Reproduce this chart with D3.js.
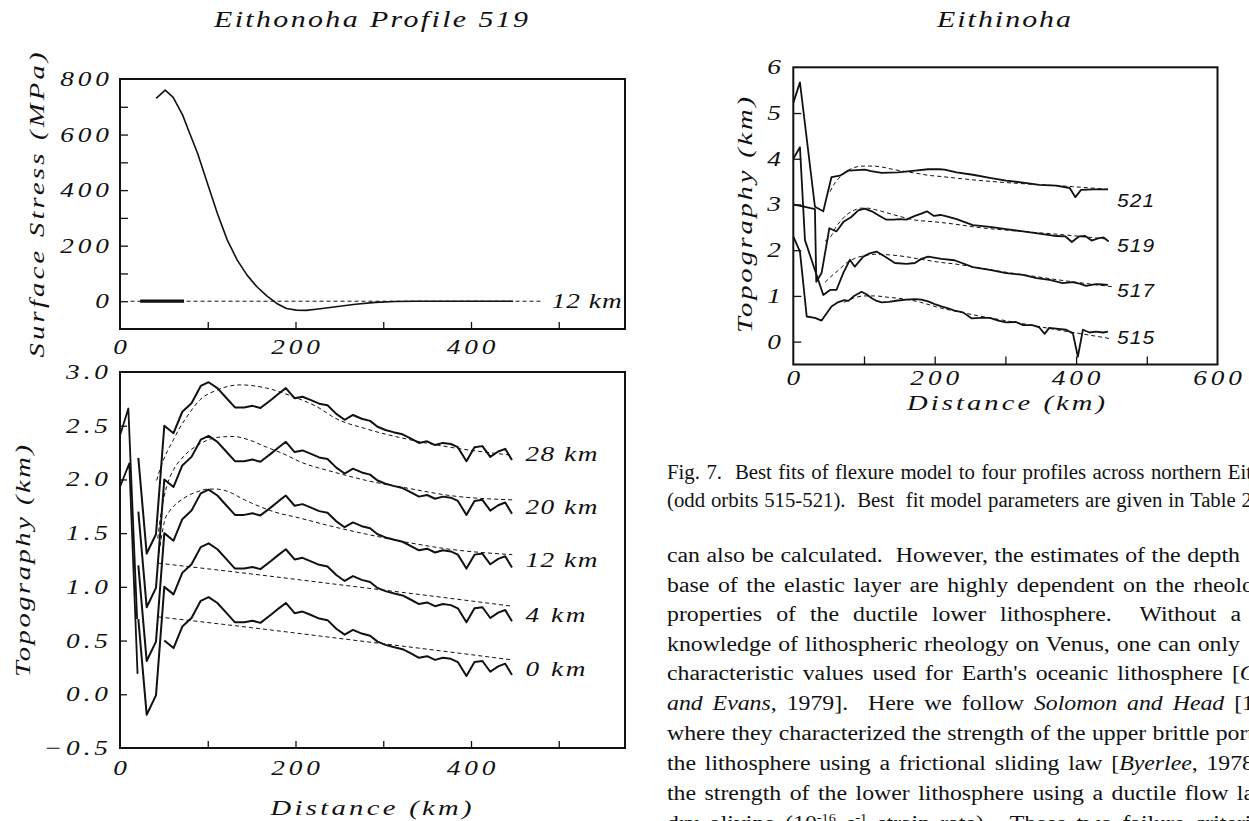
<!DOCTYPE html>
<html>
<head>
<meta charset="utf-8">
<script src="https://cdn.jsdelivr.net/npm/d3@7"></script>
<style>
  body { margin: 0; background: #fff; }
  svg { display: block; }
</style>
</head>
<body>
<svg id="fig" width="1249" height="821"></svg>
<script>
// ---------- Profile 519: surface stress for the 12 km elastic model ----------
const stressKm  = [41.2, 51.5, 60.6, 71.4, 79.5, 88.5, 99.7, 111, 122.3, 133.6, 144.8, 156, 167.3, 178.6, 189.8, 201, 212.3, 223.6, 246, 268.5, 291, 313.7, 336, 448];
const stressMPa = [730, 760, 734, 670, 604, 532, 424, 316, 220, 148, 94, 52, 19, -8, -26, -32, -33, -29, -20, -11, -4, -1, 0, 0];
const stressFlatKm = [23, 73];
const zeroLineKm = [12, 479];

// ---------- Profile 519 topography (base curve, stacked by model) ----------
const profKm = [20.9, 30.4, 41, 50.5, 61, 71, 81.5, 92, 101, 111, 121, 131, 141.5, 151, 160, 172, 181, 189, 199, 208,
                217, 227, 236.5, 246.5, 256, 265.5, 275.5, 285, 293.5, 302.5, 311.5, 322, 331.6, 340.7, 350, 359, 368, 377, 385, 394.8,
                404, 413, 422, 431, 439, 446.7];
const profTopo = [0.20, -0.69, -0.51, 0.50, 0.43, 0.63, 0.71, 0.87, 0.905, 0.85, 0.76, 0.67, 0.67, 0.685, 0.665, 0.74, 0.80, 0.85, 0.755, 0.77,
                  0.74, 0.705, 0.69, 0.61, 0.555, 0.60, 0.565, 0.545, 0.49, 0.46, 0.44, 0.42, 0.38, 0.34, 0.355, 0.32, 0.34, 0.33, 0.30, 0.17,
                  0.30, 0.31, 0.21, 0.26, 0.285, 0.18];
const stackOffsets = [2.0, 1.5, 1.0, 0.5, 0.0];
const stackFirstPoint = [0, 0, 0, 0, 3];
const elasticLabels = ["28 km", "20 km", "12 km", "4 km", "0 km"];
const elasticLabelTopo = [2.24, 1.74, 1.25, 0.735, 0.24];

// leading segments near the trench
const lead28Km = [0, 9.5, 19.5];
const lead28   = [2.41, 2.66, 0.70];
const lead20Km = [0, 10.6, 20.0];
const lead20   = [1.93, 2.15, 0.19];

// flexure model fits, one per elastic thickness
const fit28Km = [41.8, 45, 49.4, 55, 61, 68, 76, 91, 110, 137, 167, 197.5, 228, 243, 281, 330, 376, 447];
const fit28   = [1.99, 2.08, 2.18, 2.28, 2.37, 2.48, 2.58, 2.74, 2.83, 2.88, 2.85, 2.77, 2.66, 2.58, 2.47, 2.37, 2.30, 2.225];
const fit20Km = [43, 47, 53, 61, 72, 91, 110, 129, 148, 167, 186, 205, 243, 281, 330, 376, 447];
const fit20   = [1.45, 1.70, 1.93, 2.09, 2.21, 2.33, 2.39, 2.40, 2.365, 2.30, 2.24, 2.165, 2.07, 1.99, 1.915, 1.85, 1.81];
const fit12Km = [43.5, 47, 51, 56, 61, 70, 80, 90, 100, 110, 118, 128, 137, 150, 175, 205, 243, 281, 330, 376, 447];
const fit12   = [1.25, 1.45, 1.62, 1.70, 1.75, 1.81, 1.86, 1.89, 1.91, 1.91, 1.90, 1.87, 1.83, 1.78, 1.70, 1.64, 1.56, 1.49, 1.41, 1.35, 1.30];
const fit4Km  = [44, 150, 250, 350, 447];
const fit4    = [1.22, 1.12, 1.02, 0.92, 0.82];
const fit0Km  = [44, 150, 250, 350, 447];
const fit0    = [0.72, 0.62, 0.52, 0.42, 0.32];

// ---------- Eithinoha: orbits 515-521 ----------
const o521Km = [0, 9.4, 30.6, 42.4, 54, 66, 77.7, 90, 101, 110, 125, 148, 172, 190.7, 207, 214, 231, 254, 278, 301, 325, 348, 372, 391, 399, 407, 424, 445];
const o521   = [5.22, 5.67, 2.95, 2.85, 3.60, 3.63, 3.74, 3.75, 3.76, 3.73, 3.69, 3.70, 3.74, 3.77, 3.77, 3.76, 3.70, 3.65, 3.58, 3.52, 3.48, 3.43, 3.41, 3.36, 3.16, 3.32, 3.33, 3.33];
const m521Km = [52, 58, 66, 75, 83, 92, 101, 112, 125, 140, 158, 175, 190, 210, 228, 260, 300, 340, 395, 445];
const m521   = [3.28, 3.45, 3.60, 3.72, 3.79, 3.83, 3.84, 3.84, 3.82, 3.77, 3.72, 3.68, 3.64, 3.61, 3.58, 3.53, 3.48, 3.44, 3.39, 3.33];

const o519Km = [0, 16.5, 30.6, 32.5, 40, 51, 61, 71, 81.5, 92, 101, 111, 121, 131, 141.5, 151, 160, 172, 181, 189, 199, 208, 217, 231, 254, 278, 301, 325, 348, 372, 385, 394, 404, 413, 422, 431, 439, 446];
const o519   = [3.00, 2.95, 2.90, 1.31, 1.50, 2.48, 2.41, 2.62, 2.72, 2.87, 2.91, 2.85, 2.76, 2.67, 2.67, 2.68, 2.67, 2.75, 2.80, 2.85, 2.75, 2.77, 2.74, 2.68, 2.55, 2.51, 2.46, 2.41, 2.36, 2.31, 2.30, 2.18, 2.30, 2.31, 2.21, 2.26, 2.28, 2.19];
const m519Km = [45, 54, 60, 66, 76, 87, 96, 105, 115, 125, 148, 172, 200, 228, 260, 300, 340, 380, 420, 446];
const m519   = [2.20, 2.32, 2.50, 2.62, 2.78, 2.88, 2.92, 2.92, 2.89, 2.85, 2.75, 2.66, 2.62, 2.57, 2.50, 2.44, 2.39, 2.34, 2.28, 2.24];

const o517Km = [0, 9.4, 16.5, 42.4, 52, 61, 70.6, 80, 87, 99, 108, 117.7, 129.5, 143.6, 160, 172, 181, 190.7, 209.6, 228, 254, 278, 301, 325, 344, 362.6, 381, 395, 405, 414, 428, 437, 445];
const o517   = [4.00, 4.25, 2.22, 1.02, 1.13, 1.13, 1.50, 1.79, 1.64, 1.86, 1.93, 1.97, 1.86, 1.72, 1.70, 1.72, 1.81, 1.86, 1.81, 1.78, 1.63, 1.57, 1.50, 1.46, 1.39, 1.35, 1.28, 1.30, 1.27, 1.22, 1.26, 1.25, 1.24];
const m517Km = [45, 53, 63, 75, 87, 100, 115, 134, 158, 181, 210, 228, 260, 300, 340, 380, 420, 452];
const m517   = [1.30, 1.42, 1.55, 1.72, 1.82, 1.88, 1.91, 1.90, 1.86, 1.80, 1.73, 1.70, 1.62, 1.52, 1.43, 1.34, 1.26, 1.20];

const o515Km = [0, 9.4, 19, 30.6, 40, 54, 63, 72, 78, 86, 96.6, 104, 111, 118, 125, 135, 148, 160, 172, 181, 190.7, 200, 209.6, 219, 228, 240, 252, 265, 278, 290,
                301, 315, 325, 338, 348, 355.5, 362, 375, 386, 395.5, 402.5, 409.6, 419, 428, 438, 445];
const o515   = [2.30, 1.97, 0.55, 0.52, 0.46, 0.77, 0.86, 0.91, 0.89, 1.00, 1.09, 1.03, 0.95, 0.89, 0.86, 0.87, 0.90, 0.92, 0.93, 0.92, 0.88, 0.82, 0.77, 0.73, 0.68, 0.64, 0.51, 0.52, 0.52, 0.46,
                0.42, 0.43, 0.36, 0.36, 0.31, 0.17, 0.30, 0.28, 0.26, 0.18, -0.33, 0.26, 0.20, 0.22, 0.20, 0.22];
const m515Km = [72, 85, 100, 115, 134, 158, 180, 207, 228, 260, 300, 340, 380, 420, 447];
const m515   = [0.86, 0.95, 1.00, 1.00, 0.97, 0.93, 0.86, 0.74, 0.67, 0.57, 0.46, 0.35, 0.24, 0.14, 0.07];

const orbitLabels = ["521", "519", "517", "515"];
const orbitLabelTopo = [3.10, 2.12, 1.13, 0.10];

// tick labels
const distTicksLeft = [0, 200, 400];
const stressTicks = [0, 200, 400, 600, 800];
const topoTicksLeft = [-0.5, 0.0, 0.5, 1.0, 1.5, 2.0, 2.5, 3.0];
const distTicksRight = [0, 200, 400, 600];
const topoTicksRight = [0, 1, 2, 3, 4, 5, 6];

// ---------- drawing ----------
const SERIF = "'Liberation Serif','Times New Roman',serif";
const SANS = "'Liberation Sans',Arial,sans-serif";
const INK = "#111";
const svg = d3.select("#fig");
svg.append("rect").attr("width", 1249).attr("height", 821).attr("fill", "#fff");

const xL = d3.scaleLinear().domain([0, 575.5]).range([120, 625]);
const yS = d3.scaleLinear().domain([-100, 800]).range([329, 79]);
const yT = d3.scaleLinear().domain([-0.5, 3.0]).range([748, 372]);
const xR = d3.scaleLinear().domain([0, 600]).range([793.3, 1217.5]);
const yR = d3.scaleLinear().domain([-0.5, 6]).range([364.5, 67.3]);

// text helper: horizontally widened italic lettering
function label(parent, str, x, y, o = {}) {
  const sx = o.sx || 1.3;
  let tf = `translate(${x},${y})`;
  if (o.rot) tf += ` rotate(${o.rot})`;
  tf += ` scale(${sx},1)`;
  const g = parent.append("g").attr("transform", tf);
  const t = g.append("text")
    .attr("text-anchor", o.anchor || "start")
    .attr("font-family", o.family || SERIF)
    .attr("font-style", o.italic === false ? "normal" : "italic")
    .attr("font-size", o.size || 21)
    .attr("fill", INK)
    .attr("xml:space", "preserve")
    .text(str);
  if (o.width) {
    t.attr("textLength", o.width / sx).attr("lengthAdjust", "spacing");
  } else if (o.ls) {
    t.attr("letter-spacing", o.ls);
    const a = o.anchor || "start";
    if (a === "end") t.attr("dx", o.ls);
    if (a === "middle") t.attr("dx", o.ls / 2);
  }
  return t;
}

function clip(id, x0, y0, x1, y1) {
  svg.append("clipPath").attr("id", id).append("rect")
    .attr("x", x0).attr("y", y0).attr("width", x1 - x0).attr("height", y1 - y0);
  return svg.append("g").attr("clip-path", `url(#${id})`);
}

function trace(g, xs, ys, x, y, o = {}) {
  const pts = xs.map((d, i) => [d, ys[i]]);
  g.append("path").datum(pts)
    .attr("d", d3.line().x(p => x(p[0])).y(p => y(p[1])).curve(o.curve || d3.curveLinear))
    .attr("fill", "none").attr("stroke", INK)
    .attr("stroke-width", o.w || 2)
    .attr("stroke-dasharray", o.dash || null)
    .attr("stroke-linejoin", "round");
}

function frame(x0, y0, x1, y1) {
  svg.append("rect").attr("x", x0).attr("y", y0).attr("width", x1 - x0).attr("height", y1 - y0)
    .attr("fill", "none").attr("stroke", INK).attr("stroke-width", 2);
}

function ticks(axis, tf) {
  const g = svg.append("g").attr("transform", tf).call(axis);
  g.select(".domain").remove();
  g.selectAll(".tick line").attr("stroke", INK).attr("stroke-width", 1.3);
  g.selectAll(".tick text").remove();
}

const TICK = { ls: 3 };

// ===== Top-left: surface stress =====
label(svg, "Eithonoha Profile 519", 371, 27, { anchor: "middle", size: 23, width: 314 });
ticks(d3.axisBottom(xL).tickValues([100, 200, 300, 400, 500]).tickSize(-7).tickFormat(""), "translate(0,329)");
ticks(d3.axisLeft(yS).tickValues(d3.range(0, 800, 100)).tickSize(-8).tickFormat(""), "translate(120,0)");
const gS = clip("clipS", 121, 80, 624, 328);
trace(gS, zeroLineKm, [0, 0], xL, yS, { w: 1, dash: "4,3" });
trace(gS, stressFlatKm, [0, 0], xL, yS, { w: 3.2 });
trace(gS, stressKm, stressMPa, xL, yS, { w: 1.6 });
frame(120, 79, 625, 329);
label(svg, "12 km", xL(492), yS(0) + 7, { width: 70 });
stressTicks.forEach(v => label(svg, String(v), 109, yS(v) + 7, { anchor: "end", ...TICK }));
distTicksLeft.forEach(v => label(svg, String(v), xL(v), 354, { anchor: "middle", ...TICK }));
label(svg, "Surface Stress (MPa)", 44, 205, { anchor: "middle", rot: -90, size: 22, width: 305 });

// ===== Bottom-left: stacked topography with model fits =====
ticks(d3.axisBottom(xL).tickValues([100, 200, 300, 400, 500]).tickSize(-7).tickFormat(""), "translate(0,748)");
ticks(d3.axisLeft(yT).tickValues([0, 0.5, 1.0, 1.5, 2.0, 2.5]).tickSize(-7).tickFormat(""), "translate(120,0)");
const gT = clip("clipT", 121, 373, 624, 747);
trace(gT, lead28Km, lead28, xL, yT, { w: 1.8 });
trace(gT, lead20Km, lead20, xL, yT, { w: 1.8 });
stackOffsets.forEach((off, i) => {
  const k = stackFirstPoint[i];
  trace(gT, profKm.slice(k), profTopo.slice(k).map(v => v + off), xL, yT, { w: 2 });
});
[[fit28Km, fit28], [fit20Km, fit20], [fit12Km, fit12], [fit4Km, fit4], [fit0Km, fit0]]
  .forEach(([k, v]) => trace(gT, k, v, xL, yT, { w: 1, dash: "4,3", curve: d3.curveMonotoneX }));
frame(120, 372, 625, 748);
elasticLabels.forEach((s, i) => label(svg, s, xL(462), yT(elasticLabelTopo[i]) + 7,
  { width: s.length === 5 ? 72 : 60 }));
topoTicksLeft.forEach(v => label(svg, d3.format(".1f")(v), 108, yT(v) + 7, { anchor: "end", ...TICK }));
distTicksLeft.forEach(v => label(svg, String(v), xL(v), 775, { anchor: "middle", ...TICK }));
label(svg, "Topography (km)", 30, 561, { anchor: "middle", rot: -90, size: 22, width: 232 });
label(svg, "Distance (km)", 371, 815, { anchor: "middle", size: 22, width: 201 });

// ===== Right: Eithinoha orbits =====
label(svg, "Eithinoha", 1004, 27, { anchor: "middle", size: 23, width: 134 });
ticks(d3.axisBottom(xR).tickValues([100, 200, 300, 400, 500]).tickSize(-8).tickFormat(""), "translate(0,364.5)");
ticks(d3.axisLeft(yR).tickValues([0, 1, 2, 3, 4, 5]).tickSize(-8).tickFormat(""), "translate(793.3,0)");
const gR = clip("clipR", 794, 68, 1217, 364);
[[o521Km, o521], [o519Km, o519], [o517Km, o517], [o515Km, o515]]
  .forEach(([k, v]) => trace(gR, k, v, xR, yR, { w: 1.8 }));
[[m521Km, m521], [m519Km, m519], [m517Km, m517], [m515Km, m515]]
  .forEach(([k, v]) => trace(gR, k, v, xR, yR, { w: 1, dash: "4,3", curve: d3.curveMonotoneX }));
frame(793.3, 67.3, 1217.5, 364.5);
orbitLabels.forEach((s, i) => label(svg, s, xR(458), yR(orbitLabelTopo[i]) + 7,
  { family: SANS, size: 19, sx: 1.1, width: 37 }));
topoTicksRight.forEach(v => label(svg, String(v), 781, yR(v) + 7, { anchor: "end", ...TICK }));
distTicksRight.forEach(v => label(svg, String(v), xR(v), 385, { anchor: "middle", ...TICK }));
label(svg, "Topography (km)", 752, 215, { anchor: "middle", rot: -90, size: 22, width: 236 });
label(svg, "Distance (km)", 1006, 410, { anchor: "middle", size: 22, width: 198 });

// ===== Caption and running text =====
const textLines = [
  { y: 479, end: 1252, s: 1.04, parts: [["Fig. 7.  Best fits of flexure model to four profiles across northern Eit", 0]] },
  { y: 507, end: 1252, s: 1.04, parts: [["(odd orbits 515-521).  Best  fit model parameters are given in Table 2", 0]] },
  { y: 562, end: 1240, s: 1.19, parts: [["can also be calculated.  However, the estimates of the depth", 0]] },
  { y: 592, end: 1254, s: 1.19, parts: [["base of the elastic layer are highly dependent on the rheolo", 0]] },
  { y: 621, end: 1241, s: 1.19, parts: [["properties of the ductile lower lithosphere.  Without a", 0]] },
  { y: 651, end: 1240, s: 1.19, parts: [["knowledge of lithospheric rheology on Venus, one can only", 0]] },
  { y: 680, end: 1257, s: 1.19, parts: [["characteristic values used for Earth's oceanic lithosphere [", 0], ["G", 1]] },
  { y: 710, end: 1254, s: 1.19, parts: [["and Evans", 1], [", 1979].  Here we follow ", 0], ["Solomon and Head", 1], [" [1", 0]] },
  { y: 740, end: 1254, s: 1.19, parts: [["where they characterized the strength of the upper brittle port", 0]] },
  { y: 770, end: 1254, s: 1.19, parts: [["the lithosphere using a frictional sliding law [", 0], ["Byerlee", 1], [", 1978", 0]] },
  { y: 800, end: 1254, s: 1.19, parts: [["the strength of the lower lithosphere using a ductile flow la", 0]] },
  { y: 830, end: 1262, s: 1.19, parts: [["dry olivine (10", 0], ["-16", 2], [" s", 0], ["-1", 2], [" strain rate).  These two failure criteria", 0]] }
];
const X0 = 667;
textLines.forEach(line => {
  const g = svg.append("g").attr("transform", `translate(${X0},${line.y}) scale(${line.s},1)`);
  const t = g.append("text").attr("font-family", SERIF).attr("font-size", 20).attr("fill", INK)
    .attr("xml:space", "preserve");
  let prevSup = false;
  line.parts.forEach(([str, kind]) => {
    const ts = t.append("tspan").text(str);
    if (kind === 1) ts.attr("font-style", "italic");
    if (kind === 2) { ts.attr("font-size", 12).attr("dy", -8); prevSup = true; }
    else if (prevSup) { ts.attr("dy", 8); prevSup = false; }
  });
  const w0 = t.node().getComputedTextLength();
  const target = (line.end - X0) / line.s;
  const nSp = line.parts.map(p => p[0]).join("").split(" ").length - 1;
  if (target >= w0) t.attr("word-spacing", (target - w0) / nSp);
  else t.attr("textLength", target).attr("lengthAdjust", "spacingAndGlyphs");
});
</script>
</body>
</html>
